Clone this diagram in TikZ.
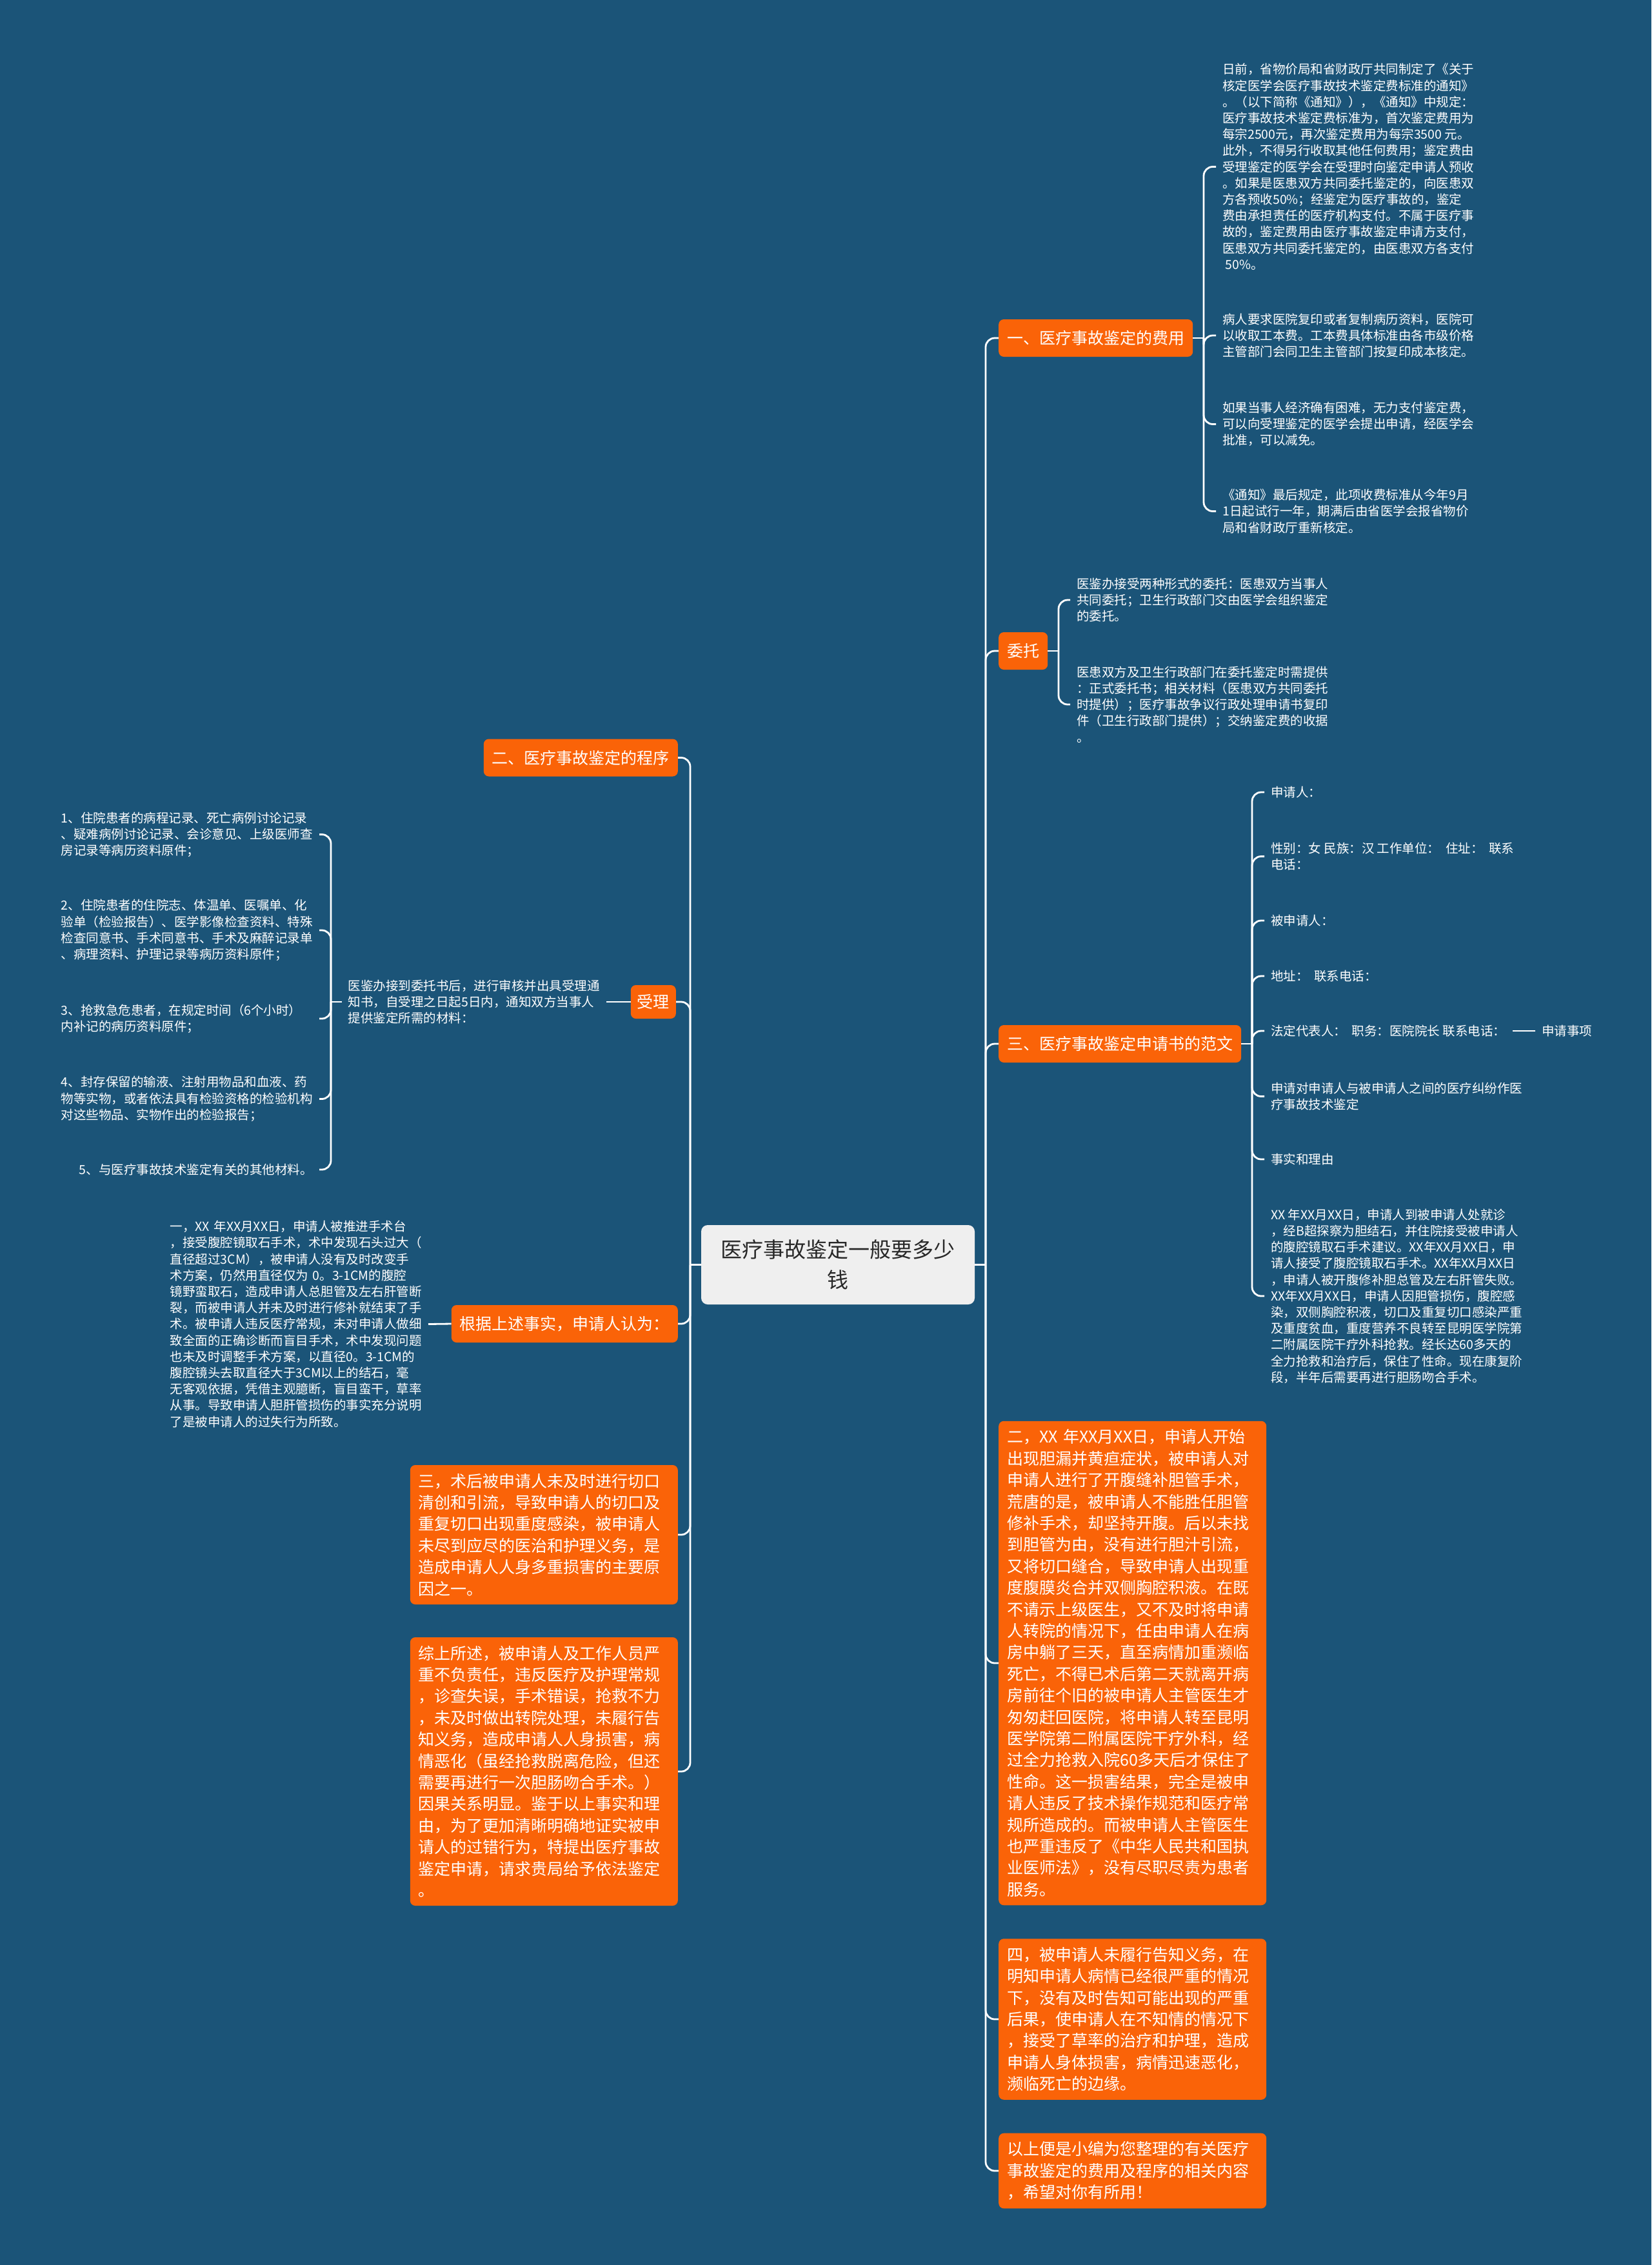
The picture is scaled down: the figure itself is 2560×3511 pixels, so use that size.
\documentclass[tikz,border=0pt]{standalone}
\usepackage{fontspec}
\newfontfamily\cjk{Noto Sans CJK SC}
\definecolor{bg}{RGB}{27,84,120}
\definecolor{org}{RGB}{250,99,8}
\definecolor{rootfill}{RGB}{239,239,239}
\definecolor{roottext}{RGB}{40,40,40}
\tikzset{
  conn/.style={draw=white, line width=2.8pt, rounded corners=14pt},
  obox/.style={fill=org, rounded corners=8pt, text=white, font=\cjk\fontsize{25}{33.4}\selectfont, inner xsep=13pt, inner ysep=0pt, minimum height=58pt},
  bigbox/.style={fill=org, rounded corners=8pt, text=white, font=\cjk\fontsize{25}{33.4}\selectfont, inner xsep=13pt, inner ysep=13pt, text width=389pt, align=left},
  small/.style={text=white, font=\cjk\fontsize{19.5}{25.2}\selectfont, inner xsep=10pt, inner ysep=0pt, align=left},
  smallw/.style={small, text width=390pt},
  rootbox/.style={fill=rootfill, rounded corners=10pt, text=roottext, font=\cjk\fontsize{33}{47}\selectfont, align=center, minimum width=424pt, minimum height=123pt, inner sep=0pt}
}
\begin{document}
\begin{tikzpicture}[x=1pt,y=-1pt]
\fill[bg] (0,0) rectangle (2560,3511);
\useasboundingbox (0,0) rectangle (2560,3511);

% root
\node[rootbox] (root) at (1299,1960.5) {医疗事故鉴定一般要多少\\钱};

% right main branches
\node[obox, anchor=west] (B1) at (1548,524) {一、医疗事故鉴定的费用};
\node[obox, anchor=west] (W) at (1548,1009) {委托};
\node[obox, anchor=west] (B3) at (1548,1618) {三、医疗事故鉴定申请书的范文};
\node[bigbox, anchor=west] (R2) at (1548,2578) {二，XX 年XX月XX日，申请人开始\\出现胆漏并黄疸症状，被申请人对\\申请人进行了开腹缝补胆管手术，\\荒唐的是，被申请人不能胜任胆管\\修补手术，却坚持开腹。后以未找\\到胆管为由，没有进行胆汁引流，\\又将切口缝合，导致申请人出现重\\度腹膜炎合并双侧胸腔积液。在既\\不请示上级医生，又不及时将申请\\人转院的情况下，任由申请人在病\\房中躺了三天，直至病情加重濒临\\死亡，不得已术后第二天就离开病\\房前往个旧的被申请人主管医生才\\匆匆赶回医院，将申请人转至昆明\\医学院第二附属医院干疗外科，经\\过全力抢救入院60多天后才保住了\\性命。这一损害结果，完全是被申\\请人违反了技术操作规范和医疗常\\规所造成的。而被申请人主管医生\\也严重违反了《中华人民共和国执\\业医师法》，没有尽职尽责为患者\\服务。};
\node[bigbox, anchor=west] (R4) at (1548,3130) {四，被申请人未履行告知义务，在\\明知申请人病情已经很严重的情况\\下，没有及时告知可能出现的严重\\后果，使申请人在不知情的情况下\\，接受了草率的治疗和护理，造成\\申请人身体损害，病情迅速恶化，\\濒临死亡的边缘。};
\node[bigbox, anchor=west] (R5) at (1548,3365) {以上便是小编为您整理的有关医疗\\事故鉴定的费用及程序的相关内容\\，希望对你有所用！};

% children of 一
\node[small, anchor=west] (a1) at (1885,258.5) {日前，省物价局和省财政厅共同制定了《关于\\核定医学会医疗事故技术鉴定费标准的通知》\\。（以下简称《通知》），《通知》中规定：\\医疗事故技术鉴定费标准为，首次鉴定费用为\\每宗2500元，再次鉴定费用为每宗3500 元。\\此外，不得另行收取其他任何费用；鉴定费由\\受理鉴定的医学会在受理时向鉴定申请人预收\\。如果是医患双方共同委托鉴定的，向医患双\\方各预收50\%；经鉴定为医疗事故的，鉴定\\费由承担责任的医疗机构支付。不属于医疗事\\故的，鉴定费用由医疗事故鉴定申请方支付，\\医患双方共同委托鉴定的，由医患双方各支付\\ \ 50\%。};
\node[small, anchor=west] (a2) at (1885,520) {病人要求医院复印或者复制病历资料，医院可\\以收取工本费。工本费具体标准由各市级价格\\主管部门会同卫生主管部门按复印成本核定。};
\node[small, anchor=west] (a3) at (1885,657.5) {如果当事人经济确有困难，无力支付鉴定费，\\可以向受理鉴定的医学会提出申请，经医学会\\批准，可以减免。};
\node[small, anchor=west] (a4) at (1885,792.5) {《通知》最后规定，此项收费标准从今年9月\\1日起试行一年，期满后由省医学会报省物价\\局和省财政厅重新核定。};

% children of 委托
\node[small, anchor=west] (w1) at (1659,930) {医鉴办接受两种形式的委托：医患双方当事人\\共同委托；卫生行政部门交由医学会组织鉴定\\的委托。};
\node[small, anchor=west] (w2) at (1659,1092) {医患双方及卫生行政部门在委托鉴定时需提供\\：正式委托书；相关材料（医患双方共同委托\\时提供）；医疗事故争议行政处理申请书复印\\件（卫生行政部门提供）；交纳鉴定费的收据\\。};

% children of 三
\node[small, anchor=west] (s1) at (1960,1228) {申请人：};
\node[small, anchor=west] (s2) at (1960,1327.5) {性别：女 民族：汉 工作单位：\ \ 住址：\ \ 联系\\电话：};
\node[small, anchor=west] (s3) at (1960,1427) {被申请人：};
\node[small, anchor=west] (s4) at (1960,1513) {地址：\ \ 联系电话：};
\node[small, anchor=west] (s5) at (1960,1598) {法定代表人：\ \ 职务：医院院长 联系电话：};
\node[small, anchor=west] (req) at (2380,1598) {申请事项};
\node[small, anchor=west] (s6) at (1960,1699.5) {申请对申请人与被申请人之间的医疗纠纷作医\\疗事故技术鉴定};
\node[small, anchor=west] (s7) at (1960,1797) {事实和理由};
\node[small, anchor=west] (s8) at (1960,2009) {XX 年XX月XX日，申请人到被申请人处就诊\\，经B超探察为胆结石，并住院接受被申请人\\的腹腔镜取石手术建议。XX年XX月XX日，申\\请人接受了腹腔镜取石手术。XX年XX月XX日\\，申请人被开腹修补胆总管及左右肝管失败。\\XX年XX月XX日，申请人因胆管损伤，腹腔感\\染，双侧胸腔积液，切口及重复切口感染严重\\及重度贫血，重度营养不良转至昆明医学院第\\二附属医院干疗外科抢救。经长达60多天的\\全力抢救和治疗后，保住了性命。现在康复阶\\段，半年后需要再进行胆肠吻合手术。};

% left main branches
\node[obox, anchor=east] (L1) at (1051,1174.5) {二、医疗事故鉴定的程序};
\node[obox, anchor=east, inner xsep=10pt, minimum height=52pt] (L2) at (1048,1553) {受理};
\node[obox, anchor=east] (L3) at (1051,2052) {根据上述事实，申请人认为：};
\node[bigbox, anchor=east] (L4) at (1051,2379) {三，术后被申请人未及时进行切口\\清创和引流，导致申请人的切口及\\重复切口出现重度感染，被申请人\\未尽到应尽的医治和护理义务，是\\造成申请人人身多重损害的主要原\\因之一。};
\node[bigbox, anchor=east] (L5) at (1051,2746) {综上所述，被申请人及工作人员严\\重不负责任，违反医疗及护理常规\\，诊查失误，手术错误，抢救不力\\，未及时做出转院处理，未履行告\\知义务，造成申请人人身损害，病\\情恶化（虽经抢救脱离危险，但还\\需要再进行一次胆肠吻合手术。）\\因果关系明显。鉴于以上事实和理\\由，为了更加清晰明确地证实被申\\请人的过错行为，特提出医疗事故\\鉴定申请，请求贵局给予依法鉴定\\。};

% 受理 chain
\node[smallw, anchor=east] (S1) at (940,1553) {医鉴办接到委托书后，进行审核并出具受理通\\知书，自受理之日起5日内，通知双方当事人\\提供鉴定所需的材料：};
\node[smallw, anchor=east] (i1) at (495,1293.5) {1、住院患者的病程记录、死亡病例讨论记录\\、疑难病例讨论记录、会诊意见、上级医师查\\房记录等病历资料原件；};
\node[smallw, anchor=east] (i2) at (495,1442) {2、住院患者的住院志、体温单、医嘱单、化\\验单（检验报告）、医学影像检查资料、特殊\\检查同意书、手术同意书、手术及麻醉记录单\\、病理资料、护理记录等病历资料原件；};
\node[smallw, anchor=east] (i3) at (495,1579) {3、抢救急危患者，在规定时间（6个小时）\\内补记的病历资料原件；};
\node[smallw, anchor=east] (i4) at (495,1703.5) {4、封存保留的输液、注射用物品和血液、药\\物等实物，或者依法具有检验资格的检验机构\\对这些物品、实物作出的检验报告；};
\node[small, anchor=east] (i5) at (495,1813) {5、与医疗事故技术鉴定有关的其他材料。};

% 根据 chain
\node[smallw, anchor=east] (G1) at (664,2052.5) {一，XX~年XX月XX日，申请人被推进手术台\\，接受腹腔镜取石手术，术中发现石头过大（\\直径超过3CM），被申请人没有及时改变手\\术方案，仍然用直径仅为~0。3-1CM的腹腔\\镜野蛮取石，造成申请人总胆管及左右肝管断\\裂，而被申请人并未及时进行修补就结束了手\\术。被申请人违反医疗常规，未对申请人做细\\致全面的正确诊断而盲目手术，术中发现问题\\也未及时调整手术方案，以直径0。3-1CM的\\腹腔镜头去取直径大于3CM以上的结石，毫\\无客观依据，凭借主观臆断，盲目蛮干，草率\\从事。导致申请人胆肝管损伤的事实充分说明\\了是被申请人的过失行为所致。};

% junctions
\coordinate (rt) at (1528,1960.5);
\coordinate (lt) at (1070,1960.5);
\coordinate (j1) at (1866,524);
\coordinate (j2) at (1641,1009);
\coordinate (j3) at (1941,1618);
\coordinate (js) at (513,1553);

% connectors
\draw[conn] (root.east) -- (rt);
\foreach \n in {B1,W,B3,R2,R4,R5}{\draw[conn] (rt) |- (\n.west);}
\draw[conn] (root.west) -- (lt);
\foreach \n in {L1,L2,L3,L4,L5}{\draw[conn] (lt) |- (\n.east);}
\draw[conn] (B1.east) -- (j1);
\foreach \n in {a1,a2,a3,a4}{\draw[conn] (j1) |- (\n.west);}
\draw[conn] (W.east) -- (j2);
\foreach \n in {w1,w2}{\draw[conn] (j2) |- (\n.west);}
\draw[conn] (B3.east) -- (j3);
\foreach \n in {s1,s2,s3,s4,s5,s6,s7,s8}{\draw[conn] (j3) |- (\n.west);}
\draw[conn] (s5.east) -- (req.west);
\draw[conn] (L2.west) -- (S1.east);
\draw[conn] (S1.west) -- (js);
\foreach \n in {i1,i2,i3,i4,i5}{\draw[conn] (js) |- (\n.east);}
\draw[conn] (L3.west) -- (G1.east);
\end{tikzpicture}
\end{document}
